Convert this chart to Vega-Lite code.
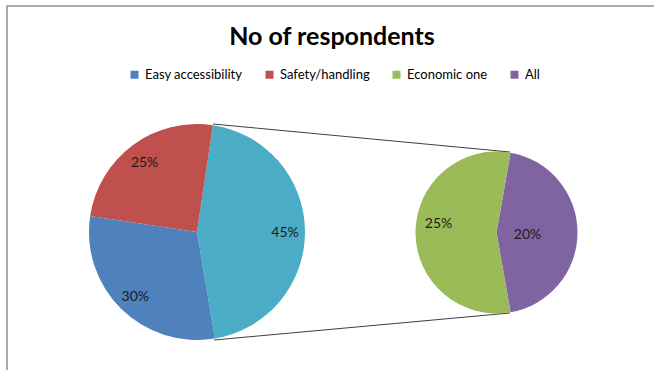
{
  "$schema": "https://vega.github.io/schema/vega-lite/v6.json",
  "width": 650,
  "height": 380,
  "autosize": "none",
  "padding": {"left": 7, "top": 6, "right": 0, "bottom": 0},
  "background": "white",
  "title": {
    "text": "No of respondents",
    "orient": "top",
    "anchor": "middle",
    "frame": "group",
    "offset": -44,
    "font": "Lato",
    "fontSize": 25,
    "fontWeight": "bold",
    "color": "#000000"
  },
  "datasets": {
    "main": [
      {"category": "Other", "share": 0.45, "rank": 1},
      {"category": "Easy accessibility", "share": 0.30, "rank": 2},
      {"category": "Safety/handling", "share": 0.25, "rank": 3}
    ],
    "secondary": [
      {"category": "All", "share": 0.20, "rank": 1},
      {"category": "Economic one", "share": 0.25, "rank": 2}
    ],
    "connectors": [
      {"link": "top"},
      {"link": "bottom"}
    ]
  },
  "layer": [
    {
      "data": {"name": "main"},
      "layer": [
        {
          "mark": {"type": "arc", "radius": 108},
          "encoding": {
            "x": {"datum": 197, "type": "quantitative", "scale": {"domain": [7, 657], "nice": false, "zero": false}, "axis": null},
            "y": {"datum": 232, "type": "quantitative", "scale": {"domain": [6, 386], "nice": false, "zero": false, "reverse": true}, "axis": null},
            "theta": {"field": "share", "type": "quantitative", "stack": true, "scale": {"range": [0.148, 6.431], "nice": false, "zero": true}},
            "order": {"field": "rank", "type": "quantitative"},
            "color": {
              "field": "category",
              "type": "nominal",
              "scale": {
                "domain": ["Easy accessibility", "Safety/handling", "Economic one", "All", "Other"],
                "range": ["#4F81BD", "#C0504D", "#9BBB59", "#8064A2", "#4BACC6"]
              },
              "legend": {
                "values": ["Easy accessibility", "Safety/handling", "Economic one", "All"],
                "orient": "none",
                "direction": "horizontal",
                "legendX": 121,
                "legendY": 62,
                "title": null,
                "symbolType": "square",
                "symbolSize": 64,
                "symbolStrokeWidth": 0,
                "labelFont": "Lato",
                "labelFontSize": 13,
                "labelColor": "#000000",
                "labelOffset": 4,
                "columnPadding": 20
              }
            }
          }
        },
        {
          "mark": {"type": "text", "radius": 88, "dy": 2, "font": "Lato", "fontSize": 14, "color": "#1a1a1a"},
          "encoding": {
            "x": {"datum": 197, "type": "quantitative"},
            "y": {"datum": 232, "type": "quantitative"},
            "theta": {"field": "share", "type": "quantitative", "stack": true},
            "order": {"field": "rank", "type": "quantitative"},
            "text": {"field": "share", "type": "quantitative", "format": ".0%"}
          }
        }
      ]
    },
    {
      "data": {"name": "secondary"},
      "layer": [
        {
          "mark": {"type": "arc", "radius": 81},
          "encoding": {
            "x": {"datum": 496.5, "type": "quantitative"},
            "y": {"datum": 232.5, "type": "quantitative"},
            "theta": {"field": "share", "type": "quantitative", "stack": true, "scale": {"range": [0.1745, 6.4577], "nice": false, "zero": true}},
            "order": {"field": "rank", "type": "quantitative"},
            "color": {"field": "category", "type": "nominal"}
          }
        },
        {
          "mark": {"type": "text", "radius": 31, "dy": 3, "font": "Lato", "fontSize": 14, "color": "#1a1a1a"},
          "encoding": {
            "x": {"datum": 496.5, "type": "quantitative"},
            "y": {"datum": 232.5, "type": "quantitative"},
            "theta": {"field": "share", "type": "quantitative", "stack": true},
            "order": {"field": "rank", "type": "quantitative"},
            "opacity": {"condition": {"test": "datum.category === 'All'", "value": 1}, "value": 0},
            "text": {"field": "share", "type": "quantitative", "format": ".0%"}
          }
        },
        {
          "mark": {"type": "text", "radius": 58, "dy": -9, "font": "Lato", "fontSize": 14, "color": "#1a1a1a"},
          "encoding": {
            "x": {"datum": 496.5, "type": "quantitative"},
            "y": {"datum": 232.5, "type": "quantitative"},
            "theta": {"field": "share", "type": "quantitative", "stack": true},
            "order": {"field": "rank", "type": "quantitative"},
            "opacity": {"condition": {"test": "datum.category === 'Economic one'", "value": 1}, "value": 0},
            "text": {"field": "share", "type": "quantitative", "format": ".0%"}
          }
        }
      ],
      "resolve": {"scale": {"theta": "shared"}}
    },
    {
      "data": {"name": "connectors"},
      "transform": [{"filter": "datum.link === 'top'"}],
      "mark": {"type": "rule", "color": "#404040", "strokeWidth": 1},
      "encoding": {
        "x": {"datum": 213, "type": "quantitative"},
        "y": {"datum": 124, "type": "quantitative"},
        "x2": {"datum": 510},
        "y2": {"datum": 152}
      }
    },
    {
      "data": {"name": "connectors"},
      "transform": [{"filter": "datum.link === 'bottom'"}],
      "mark": {"type": "rule", "color": "#404040", "strokeWidth": 1},
      "encoding": {
        "x": {"datum": 214, "type": "quantitative"},
        "y": {"datum": 340, "type": "quantitative"},
        "x2": {"datum": 510},
        "y2": {"datum": 313}
      }
    }
  ],
  "resolve": {"scale": {"theta": "independent"}},
  "config": {
    "view": {"stroke": "#8e8e8e", "strokeWidth": 1.5},
    "arc": {"stroke": null}
  }
}
